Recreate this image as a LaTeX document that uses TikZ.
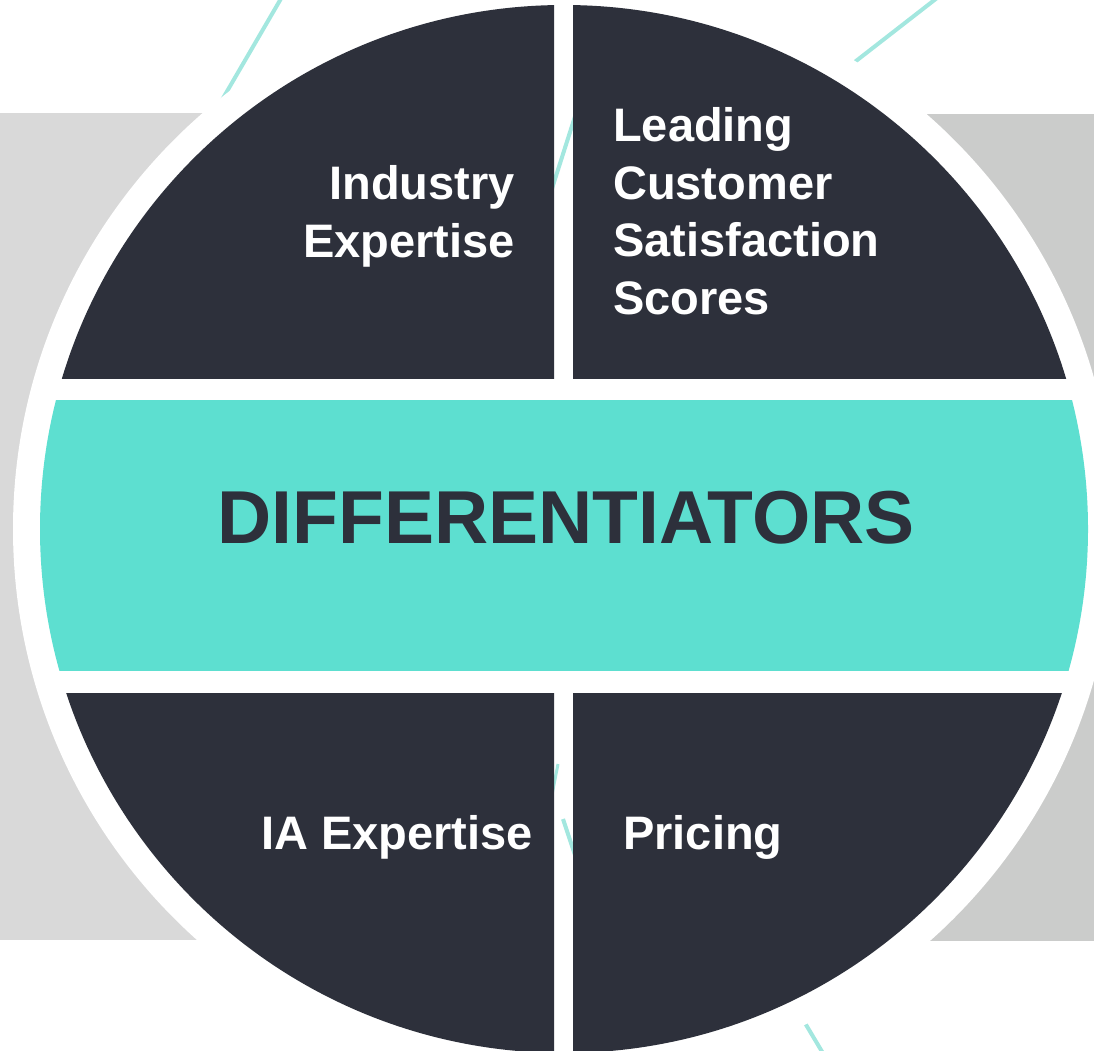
\documentclass[tikz,border=0pt]{standalone}
\usepackage{fontspec}
\setmainfont{Liberation Sans}
\definecolor{darkq}{HTML}{2D303B}
\definecolor{tealband}{HTML}{5DDFD0}
\definecolor{grayL}{HTML}{D9D9D9}
\definecolor{grayR}{HTML}{CBCCCB}
\definecolor{tealline}{HTML}{A3E7DF}
\begin{document}
\begin{tikzpicture}[x=1pt,y=-1pt,
  lbl/.style={text=white,font=\fontsize{47}{57.5}\selectfont\bfseries,inner sep=0pt},
  big/.style={text=darkq,font=\fontsize{75}{80}\selectfont\bfseries,inner sep=0pt},
  deco/.style={tealline,line width=4pt}]
\useasboundingbox (0,0) rectangle (1094,1051);
\clip (0,0) rectangle (1094,1051);
\coordinate (c) at (564,529);
% grey backing panels
\fill[grayL] (0,113) rectangle (564,940);
\fill[grayR] (564,114) rectangle (1094,941);
% decorative lines behind
\draw[deco] (286,-10) -- (215,112);
\draw[deco] (946,-9) -- (838,75);
\draw[deco] (799,1013) -- (830,1065);
% white disc
\fill[white] (c) circle (551pt);
% decorative lines seen through the gaps
\draw[deco] (579,104) -- (548,201);
\draw[deco,line width=3pt] (558,764) -- (550,805);
\draw[deco] (563,819) -- (577,861);
% quadrants and band
\begin{scope}
  \clip (0,0) rectangle (554,378);
  \fill[darkq] (c) circle (524pt);
\end{scope}
\begin{scope}
  \clip (573,0) rectangle (1094,378);
  \fill[darkq] (c) circle (524pt);
\end{scope}
\begin{scope}
  \clip (0,400) rectangle (1094,670);
  \fill[tealband] (c) circle (524pt);
\end{scope}
\begin{scope}
  \clip (0,693) rectangle (554,1100);
  \fill[darkq] (c) circle (524pt);
\end{scope}
\begin{scope}
  \clip (573,693) rectangle (1094,1100);
  \fill[darkq] (c) circle (524pt);
\end{scope}
% texts (base anchor = baseline of the last line)
\node[lbl,anchor=base east,align=right] (ind) at (515,257) {Industry\\Expertise};
\node[lbl,anchor=base west,align=left] (lead) at (613,314) {Leading\\Customer\\Satisfaction\\Scores};
\node[big,anchor=base] (diff) at (566,543) {DIFFERENTIATORS};
\node[lbl,anchor=base east] (ia) at (533,849) {IA Expertise};
\node[lbl,anchor=base west] (pr) at (623,849) {Pricing};
\end{tikzpicture}
\end{document}
